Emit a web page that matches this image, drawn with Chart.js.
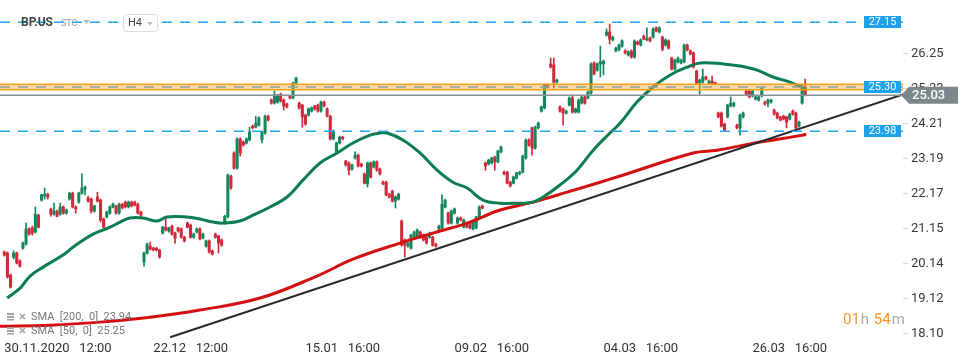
<!DOCTYPE html>
<html lang="en">
<head>
<meta charset="UTF-8" />
<title>BP.US H4</title>
<script src="https://cdn.jsdelivr.net/npm/chart.js@4.4.0/dist/chart.umd.min.js"></script>
<style>
  body { margin: 0; background: #fff; }
</style>
</head>
<body>
<canvas id="myChart" width="970" height="364"></canvas>
<script>
// H4 candles, [open, high, low, close]
const candles = [
  [20.47,20.50,20.35,20.38],[20.44,20.47,19.71,19.74],[19.80,19.83,19.42,19.45],[20.32,20.50,20.27,20.44],
  [20.44,20.47,20.12,20.15],[20.21,20.24,20.03,20.06],[20.58,20.76,20.55,20.73],[20.70,21.31,20.67,21.14],
  [21.14,21.17,20.96,20.99],[21.17,21.22,20.96,21.02],[21.05,21.78,21.02,21.57],[21.54,21.57,21.17,21.19],
  [21.98,22.15,21.95,22.13],[22.10,22.33,22.01,22.15],[22.15,22.18,22.01,22.07],[21.72,21.75,21.51,21.57],
  [21.57,21.89,21.54,21.66],[21.66,21.69,21.49,21.51],[21.57,21.89,21.54,21.78],[21.78,21.81,21.57,21.60],
  [21.60,21.72,21.57,21.69],[22.01,22.21,21.98,22.18],[22.18,22.21,21.75,21.78],[21.78,21.81,21.60,21.72],
  [21.92,22.21,21.89,22.18],[22.18,22.74,22.15,22.33],[22.30,22.39,22.13,22.36],[22.04,22.10,21.92,21.95],
  [22.01,22.04,21.60,21.66],[21.66,21.83,21.63,21.81],[22.07,22.21,21.92,21.95],[21.98,22.01,21.34,21.40],
  [21.43,21.46,21.17,21.19],[21.49,21.66,21.46,21.63],[21.60,21.81,21.57,21.78],[21.78,21.89,21.75,21.86],
  [21.81,21.83,21.57,21.60],[21.60,21.89,21.57,21.86],[21.86,21.89,21.72,21.75],[21.92,21.95,21.75,21.78],
  [21.78,21.95,21.75,21.92],[21.92,21.95,21.78,21.81],[21.92,21.95,21.81,21.83],[21.86,21.89,21.57,21.60],
  [21.63,21.66,21.49,21.54],[20.18,20.47,20.06,20.44],[20.44,20.73,20.41,20.70],[20.64,20.76,20.53,20.55],
  [20.58,20.61,20.50,20.53],[20.58,20.61,20.50,20.53],[20.53,20.55,20.29,20.32],[21.02,21.22,20.99,21.19],
  [21.19,21.43,21.08,21.11],[21.08,21.19,21.05,21.17],[21.22,21.25,20.96,20.99],[21.02,21.05,20.73,20.87],
  [21.17,21.19,21.05,21.08],[21.14,21.17,20.87,20.90],[20.90,20.93,20.76,20.79],[21.31,21.34,21.17,21.19],
  [21.25,21.28,20.87,20.90],[20.90,21.02,20.87,20.99],[21.05,21.17,21.02,21.14],[21.14,21.17,20.82,20.85],
  [20.87,21.02,20.85,20.99],[20.64,20.82,20.61,20.79],[20.79,20.82,20.44,20.47],[20.50,20.53,20.38,20.41],
  [20.99,21.02,20.87,20.90],[20.93,20.96,20.44,20.73],[20.82,20.85,20.64,20.67],[21.31,21.54,21.28,21.51],
  [21.49,22.74,21.46,22.71],[22.68,22.71,22.30,22.33],[23.35,23.38,22.88,22.91],[22.91,23.79,22.88,23.76],
  [23.76,23.79,23.26,23.35],[23.67,23.70,23.55,23.58],[23.64,23.79,23.61,23.76],[23.73,24.10,23.70,23.96],
  [24.13,24.16,24.05,24.08],[24.10,24.42,24.08,24.22],[24.16,24.40,24.13,24.37],[23.73,23.99,23.64,23.96],
  [23.93,24.45,23.90,24.42],[24.42,24.45,24.28,24.31],[24.89,24.92,24.77,24.80],[24.80,25.15,24.77,25.04],
  [24.83,25.06,24.80,25.04],[25.06,25.09,24.83,24.86],[24.89,24.92,24.60,24.72],[24.77,24.80,24.66,24.69],
  [24.98,25.01,24.92,24.95],[24.95,25.41,24.92,25.38],[25.38,25.56,25.36,25.53],[24.80,24.83,24.63,24.66],
  [24.74,24.77,24.10,24.40],[24.45,24.48,24.16,24.19],[24.45,24.66,24.42,24.63],[24.57,24.69,24.54,24.66],
  [24.72,24.74,24.60,24.63],[24.74,24.77,24.54,24.57],[24.57,24.86,24.54,24.83],[24.83,24.86,24.69,24.72],
  [24.63,24.66,24.40,24.42],[24.42,24.45,23.73,23.76],[23.76,24.02,23.73,23.99],[23.38,23.67,23.35,23.64],
  [23.64,23.84,23.61,23.81],[23.81,23.84,23.73,23.76],[23.12,23.14,22.97,23.00],[23.06,23.09,22.71,22.85],
  [22.88,23.03,22.85,23.00],[23.20,23.38,23.17,23.29],[23.29,23.32,22.94,22.97],[23.03,23.06,22.94,22.97],
  [22.74,22.77,22.45,22.47],[22.45,23.09,22.36,23.06],[23.06,23.09,22.62,22.65],[22.94,23.12,22.91,23.09],
  [23.09,23.12,22.82,22.85],[22.88,22.91,22.71,22.74],[22.50,22.53,22.42,22.45],[22.50,22.53,22.10,22.13],
  [22.15,22.18,22.04,22.07],[22.24,22.27,21.92,21.95],[21.95,22.10,21.75,22.07],[22.01,22.18,21.98,22.15],
  [21.37,21.40,20.64,20.67],[20.82,20.85,20.32,20.67],[20.64,20.76,20.61,20.73],[20.58,20.99,20.55,20.96],
  [20.90,21.08,20.87,21.05],[20.90,21.14,20.87,21.11],[21.05,21.08,20.87,20.90],[20.96,20.99,20.79,20.82],
  [20.90,20.93,20.70,20.73],[20.90,21.05,20.87,21.02],[20.90,20.93,20.64,20.67],[20.70,20.73,20.61,20.64],
  [21.14,21.25,21.11,21.22],[21.17,22.13,21.14,21.86],[21.78,22.01,21.75,21.98],[21.60,21.63,21.28,21.31],
  [21.31,21.69,21.28,21.66],[21.60,21.75,21.57,21.72],[21.31,21.49,21.28,21.46],[21.46,21.49,21.37,21.40],
  [21.19,21.43,21.17,21.40],[21.31,21.34,21.17,21.19],[21.31,21.34,21.14,21.17],[21.14,21.37,21.11,21.34],
  [21.17,21.51,21.14,21.49],[21.49,21.81,21.46,21.78],[21.81,21.83,21.72,21.75],[23.06,23.09,22.85,22.97],
  [23.03,23.17,23.00,23.14],[23.06,23.23,23.03,23.20],[23.23,23.26,22.85,23.09],[23.09,23.43,23.06,23.41],
  [23.38,23.55,23.35,23.52],[22.79,22.82,22.71,22.74],[22.79,22.82,22.45,22.47],[22.50,22.53,22.36,22.39],
  [22.47,22.68,22.45,22.65],[22.62,22.79,22.59,22.77],[22.74,22.82,22.71,22.79],[22.79,23.29,22.77,23.26],
  [23.20,23.76,23.17,23.73],[23.73,23.76,23.55,23.58],[24.08,24.10,23.29,23.49],[23.49,24.13,23.46,24.10],
  [24.08,24.25,24.05,24.22],[24.57,24.72,24.54,24.69],[24.66,25.36,24.63,25.33],[25.33,25.36,25.24,25.27],
  [25.94,26.11,25.82,25.85],[25.91,26.11,25.24,25.41],[25.41,25.50,25.38,25.47],[24.69,24.72,24.54,24.57],
  [24.63,24.66,24.16,24.51],[24.51,24.60,24.48,24.57],[24.74,24.98,24.72,24.95],[24.95,25.04,24.51,24.54],
  [24.54,24.66,24.51,24.63],[24.54,24.92,24.51,24.89],[24.80,25.01,24.77,24.98],[24.98,25.01,24.77,24.80],
  [24.95,25.15,24.92,25.12],[25.09,25.97,25.06,25.94],[25.97,26.00,25.62,25.65],[25.76,25.97,25.73,25.94],
  [25.94,26.46,25.56,26.00],[25.94,26.05,25.62,26.02],[26.78,26.96,26.75,26.87],[26.87,27.10,26.52,26.66],
  [26.64,26.75,26.61,26.72],[26.32,26.43,26.29,26.40],[26.35,26.52,26.32,26.49],[26.46,26.64,26.43,26.61],
  [26.32,26.35,26.23,26.26],[26.20,26.32,26.17,26.29],[26.32,26.35,26.11,26.14],[26.14,26.64,26.11,26.61],
  [26.58,26.61,26.49,26.52],[26.49,26.67,26.46,26.64],[26.75,26.78,26.64,26.66],[26.64,26.99,26.61,26.69],
  [26.69,26.72,26.58,26.61],[26.72,26.99,26.69,26.96],[26.99,27.02,26.87,26.90],[26.87,27.02,26.84,26.99],
  [26.72,26.75,26.32,26.37],[26.49,26.67,26.46,26.64],[26.61,26.64,26.37,26.40],[26.11,26.14,25.76,25.79],
  [25.79,26.08,25.76,26.05],[26.00,26.14,25.97,26.11],[25.97,26.08,25.94,26.05],[26.00,26.52,25.97,26.49],
  [26.49,26.52,26.32,26.35],[26.32,26.35,26.20,26.23],[26.26,26.29,25.82,25.85],[25.73,25.76,25.36,25.38],
  [25.38,25.50,25.06,25.47],[25.41,25.79,25.38,25.56],[25.56,25.59,25.47,25.50],[25.38,25.47,25.36,25.44],
  [25.44,25.59,25.33,25.36],[25.38,25.41,25.33,25.36],[24.51,24.54,24.37,24.40],[24.51,24.54,24.10,24.13],
  [24.19,24.22,23.99,24.02],[24.40,24.77,24.37,24.74],[24.72,24.98,24.69,24.80],[24.72,24.83,24.69,24.80],
  [24.16,24.19,24.05,24.08],[24.08,24.48,23.87,24.45],[24.40,24.54,24.37,24.51],[25.15,25.18,25.04,25.06],
  [25.15,25.18,24.95,24.98],[25.01,25.18,24.98,25.15],[24.92,25.01,24.89,24.98],[24.89,25.01,24.86,24.98],
  [25.01,25.27,24.98,25.24],[24.83,24.86,24.74,24.77],[24.80,24.92,24.69,24.89],[24.83,24.92,24.80,24.89],
  [24.60,24.63,24.45,24.48],[24.51,24.54,24.34,24.37],[24.40,24.42,24.28,24.31],[24.42,24.45,24.31,24.34],
  [24.40,24.42,24.08,24.25],[24.34,24.51,24.31,24.48],[24.57,24.60,24.45,24.48],[24.51,24.54,24.05,24.08],
  [24.13,24.28,24.10,24.25],[24.80,25.33,24.77,25.27],[25.27,25.50,25.01,25.03]
];

// moving averages, [bar index, price]
const sma50 = [
  [0.9,19.13],[5.1,19.42],[8.3,19.77],[12.5,20.03],[18.9,20.38],[22.1,20.61],[28.6,20.99],[34.1,21.19],
  [37.3,21.34],[40.5,21.46],[44.7,21.46],[49.2,21.37],[52.4,21.49],[58.8,21.49],[63.0,21.43],[67.2,21.34],
  [70.5,21.31],[75.9,21.37],[80.1,21.54],[85.6,21.78],[91.1,22.07],[96.2,22.56],[101.7,23.06],[107.2,23.35],
  [112.3,23.64],[117.8,23.87],[121.0,23.93],[123.3,23.93],[128.4,23.73],[133.9,23.35],[139.4,22.85],[144.5,22.50],
  [149.1,22.33],[154.2,21.98],[159.7,21.89],[165.2,21.89],[170.3,21.92],[173.6,22.07],[179.0,22.42],[184.5,22.85],
  [189.7,23.43],[195.1,23.93],[198.4,24.22],[203.8,24.83],[209.0,25.27],[214.5,25.62],[220.0,25.85],[224.2,25.97],
  [231.6,25.94],[237.0,25.88],[242.5,25.76],[247.6,25.56],[253.1,25.41],[257.3,25.24],[258.3,25.21]
];
const sma200 = [
  [-1.4,18.31],[14.7,18.34],[30.8,18.43],[46.9,18.57],[63.0,18.78],[82.4,19.13],[100.7,19.77],[112.3,20.26],
  [127.5,20.73],[138.1,21.02],[149.1,21.31],[159.7,21.69],[170.3,21.92],[181.3,22.21],[191.9,22.50],[198.4,22.68],
  [221.9,23.35],[229.6,23.43],[243.5,23.67],[257.3,23.87],[258.3,23.90]
];
const trendLine = [[53.4, 17.99], [289.5, 25.05]];

const xTickIdx = [0, 48, 97, 145, 193, 241];
const xTickLabels = ['30.11.2020   12:00', '22.12   12:00', '15.01   16:00', '09.02   16:00', '04.03   16:00', '26.03   16:00'];
const yTicks = [18.10, 19.12, 20.14, 21.15, 22.17, 23.19, 24.21, 25.23, 26.25];

const blueLevels = [27.15, 23.98];
const zoneLow = 25.19, zoneHigh = 25.35, zoneMid = 25.27, zoneLabel = '25.30';
const lastPrice = 25.03;
const smaLegend = ['SMA  [200,  0]  23.94', 'SMA  [50,  0]  25.25'];

const UP = '#14865b', DOWN = '#d2283c';

const overlay = {
  id: 'overlay',
  afterDatasetsDraw(chart) {
    const { ctx, chartArea: a, scales: { y } } = chart;
    ctx.save();
    // resistance zone
    const zt = y.getPixelForValue(zoneHigh), zb = y.getPixelForValue(zoneLow);
    ctx.fillStyle = 'rgba(250, 165, 40, 0.42)';
    ctx.fillRect(a.left, zt, a.right - a.left, zb - zt);
    ctx.strokeStyle = '#f5a020';
    ctx.lineWidth = 1.5;
    ctx.beginPath();
    ctx.moveTo(a.left, zt); ctx.lineTo(a.right, zt);
    ctx.moveTo(a.left, zb); ctx.lineTo(a.right, zb);
    ctx.stroke();
    ctx.setLineDash([10, 8]);
    ctx.strokeStyle = '#8fa39a';
    ctx.beginPath();
    const zm = y.getPixelForValue(zoneMid);
    ctx.moveTo(a.left, zm); ctx.lineTo(a.right, zm);
    ctx.stroke();
    // blue levels
    ctx.strokeStyle = '#22a5ee';
    blueLevels.forEach(v => {
      const py = y.getPixelForValue(v);
      ctx.beginPath(); ctx.moveTo(a.left, py); ctx.lineTo(a.right, py); ctx.stroke();
    });
    // last price line
    ctx.setLineDash([]);
    ctx.strokeStyle = '#8a9296';
    const lp = y.getPixelForValue(lastPrice);
    ctx.beginPath(); ctx.moveTo(a.left, lp); ctx.lineTo(a.right, lp); ctx.stroke();
    ctx.restore();
  },
  afterDraw(chart) {
    const { ctx, chartArea: a, scales: { y } } = chart;
    ctx.save();
    ctx.textBaseline = 'middle';
    // level tags
    const tag = (v, text) => {
      const py = Math.round(y.getPixelForValue(v));
      ctx.fillStyle = '#1ea2ea';
      ctx.fillRect(a.right - 39, py - 6, 37, 12);
      ctx.fillStyle = '#fff';
      ctx.font = '11px Roboto';
      ctx.textAlign = 'center';
      ctx.fillText(text, a.right - 20.5, py + 0.5);
    };
    tag(blueLevels[0], blueLevels[0].toFixed(2));
    tag(zoneMid, zoneLabel);
    tag(blueLevels[1], blueLevels[1].toFixed(2));

    // last price tag
    const lp = y.getPixelForValue(lastPrice);
    ctx.fillStyle = '#7c878c';
    ctx.beginPath();
    ctx.moveTo(a.right - 2, lp);
    ctx.lineTo(a.right + 6, lp - 8.5);
    ctx.lineTo(958, lp - 8.5);
    ctx.lineTo(958, lp + 8.5);
    ctx.lineTo(a.right + 6, lp + 8.5);
    ctx.closePath();
    ctx.fill();
    ctx.fillStyle = '#fff';
    ctx.font = '500 13px Roboto';
    ctx.textAlign = 'left';
    ctx.fillText(lastPrice.toFixed(2), a.right + 9, lp + 0.5);

    // header
    ctx.textAlign = 'left';
    ctx.fillStyle = '#3b4248';
    ctx.font = 'bold 12px Roboto';
    ctx.fillText('BP.US', 21, 23);
    ctx.fillStyle = '#8d9ba6';
    ctx.font = '9px Roboto';
    ctx.fillText('STC', 61, 24);
    ctx.fillStyle = '#b5bec5';
    ctx.beginPath(); ctx.moveTo(83, 20); ctx.lineTo(90, 20); ctx.lineTo(86.5, 24); ctx.closePath(); ctx.fill();
    ctx.fillStyle = '#fff';
    ctx.strokeStyle = '#dddddd';
    ctx.lineWidth = 1;
    ctx.beginPath();
    ctx.roundRect(123.5, 14.5, 34, 17, 3);
    ctx.fill(); ctx.stroke();
    ctx.fillStyle = '#444';
    ctx.font = '11px Roboto';
    ctx.fillText('H4', 128, 23.5);
    ctx.fillStyle = '#b5bec5';
    ctx.beginPath(); ctx.moveTo(147, 22); ctx.lineTo(153, 22); ctx.lineTo(150, 25.5); ctx.closePath(); ctx.fill();

    // indicator legend
    smaLegend.forEach((t, i) => {
      const cy = 317 + i * 14;
      ctx.fillStyle = '#a3a3a3';
      ctx.fillRect(7, cy - 4, 7, 2);
      ctx.fillRect(7, cy - 1, 7, 2);
      ctx.fillRect(7, cy + 2, 7, 1.5);
      ctx.strokeStyle = '#a3a3a3';
      ctx.lineWidth = 1.6;
      ctx.beginPath();
      ctx.moveTo(20, cy - 3); ctx.lineTo(25, cy + 2);
      ctx.moveTo(25, cy - 3); ctx.lineTo(20, cy + 2);
      ctx.stroke();
      ctx.fillStyle = '#777';
      ctx.font = '11px Roboto';
      ctx.fillText(t, 31, cy);
    });

    // bar countdown
    ctx.font = '15px Roboto';
    let x = 843;
    [['01', '#f7941d'], ['h', '#a9a9a9'], [' 54', '#f7941d'], ['m', '#a9a9a9']].forEach(([t, c]) => {
      ctx.fillStyle = c;
      ctx.fillText(t, x, 320);
      x += ctx.measureText(t).width + 1;
    });
    ctx.restore();
  }
};

window.addEventListener('load', setup);

function setup() {
  const ctx = document.getElementById('myChart').getContext('2d');
  Chart.defaults.font.family = 'Roboto';
  const colors = candles.map(c => (c[3] >= c[0] ? UP : DOWN));
  const toPts = arr => arr.map(p => ({ x: p[0], y: p[1] }));
  const noPad = s => { s.paddingTop = 0; s.paddingBottom = 0; s.paddingLeft = 0; s.paddingRight = 0; };

  new Chart(ctx, {
    type: 'bar',
    data: {
      datasets: [
        {
          type: 'line', data: toPts(sma50), borderColor: '#0c7d50', borderWidth: 3,
          pointRadius: 0, tension: 0.4, order: 1
        },
        {
          type: 'line', data: toPts(sma200), borderColor: '#d40f12', borderWidth: 3,
          pointRadius: 0, tension: 0.4, order: 1
        },
        {
          type: 'line', data: toPts(trendLine), borderColor: '#232b31', borderWidth: 2,
          pointRadius: 0, order: 0
        },
        {
          data: candles.map((c, i) => ({ x: i, y: [c[2], c[1]] })),
          backgroundColor: colors, barThickness: 1, grouped: false, order: 3
        },
        {
          data: candles.map((c, i) => ({ x: i, y: [c[0], c[3]] })),
          backgroundColor: colors, barThickness: 2.4, minBarLength: 1.5, grouped: false, order: 2
        }
      ]
    },
    options: {
      responsive: false,
      animation: false,
      layout: { padding: 0, autoPadding: false },
      plugins: { legend: { display: false }, tooltip: { enabled: false } },
      scales: {
        x: {
          type: 'linear', min: -1.39, max: 289.5, offset: false,
          afterFit: s => { s.height = 24; noPad(s); },
          afterBuildTicks: s => { s.ticks = xTickIdx.map(v => ({ value: v })); },
          grid: { display: false, drawTicks: false },
          border: { display: false },
          ticks: {
            align: 'start', autoSkip: false, maxRotation: 0, padding: 1,
            color: '#333', font: { size: 13 },
            callback: (v, i) => xTickLabels[i]
          }
        },
        y: {
          position: 'right', min: 17.91, max: 27.80,
          afterFit: s => { s.width = 67; noPad(s); },
          afterBuildTicks: s => { s.ticks = yTicks.map(v => ({ value: v })); },
          grid: { drawOnChartArea: false, tickLength: 5, color: '#d6d6d6' },
          border: { display: false },
          ticks: {
            autoSkip: false, padding: 3, color: '#3a3a3a', font: { size: 13 },
            callback: v => v.toFixed(2)
          }
        }
      }
    },
    plugins: [overlay]
  });
}
</script>
</body>
</html>
